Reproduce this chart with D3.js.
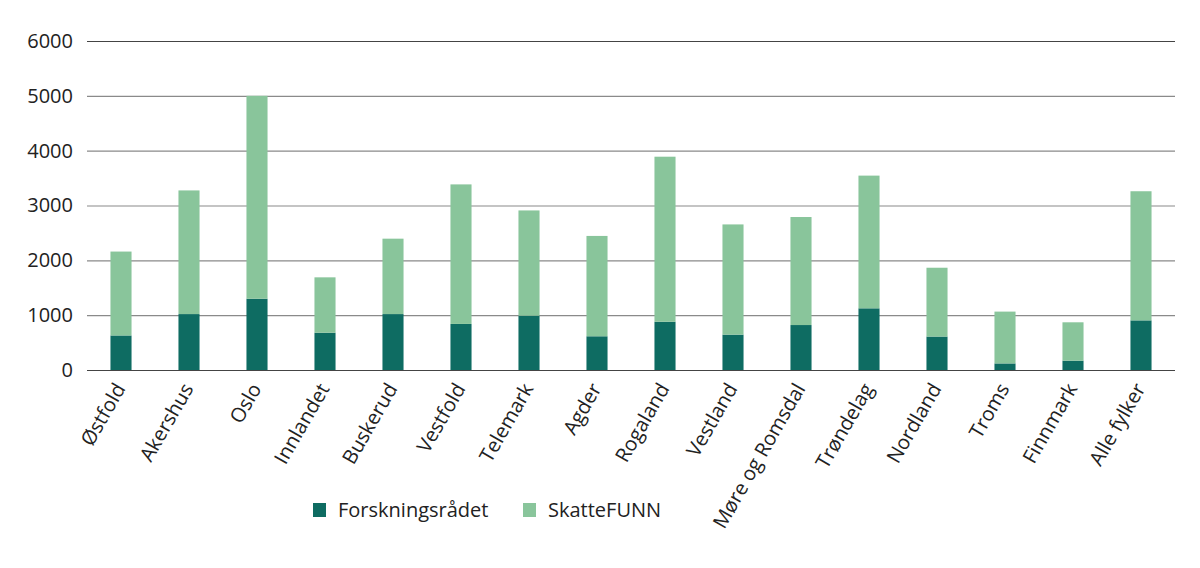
<!DOCTYPE html>
<html lang="no">
	<head>
		<meta charset="utf-8">
		<title>Forskningsrådet og SkatteFUNN per fylke</title>
		<script src="https://cdn.jsdelivr.net/npm/d3@7"></script>
		<style>
			body { margin: 0; background: #fff; }
			text { font-family: "Open Sans", sans-serif; fill: #222; }
		</style>
	</head>
	<body>
		<script>

			//
			// Data
			//
			var regions = ["Østfold", "Akershus", "Oslo", "Innlandet", "Buskerud", "Vestfold",
				"Telemark", "Agder", "Rogaland", "Vestland", "Møre og Romsdal", "Trøndelag",
				"Nordland", "Troms", "Finnmark", "Alle fylker"];
			var forskningsradet = [630, 1020, 1300, 680, 1020, 840, 990, 615, 880, 645, 820, 1125, 610, 120, 170, 905];
			var skattefunn = [1530, 2255, 3700, 1010, 1375, 2545, 1920, 1830, 3010, 2010, 1970, 2420, 1255, 945, 700, 2355];
			var yTicks = [0, 1000, 2000, 3000, 4000, 5000, 6000];

			var seriesNames = ["Forskningsrådet", "SkatteFUNN"];
			var colors = ["#0e6c62", "#89c59b"];

			// rows for d3.stack
			var rows = regions.map(function(r, i) {
				return { region: r, "Forskningsrådet": forskningsradet[i], "SkatteFUNN": skattefunn[i] };
			});

			var width = 1200, height = 568;
			var plotLeft = 87, plotRight = 1175, plotTop = 41, plotBottom = 370;

			var svg = d3.select("body").append("svg")
				.attr("width", width)
				.attr("height", height);

			var x = d3.scaleBand()
				.domain(regions)
				.range([plotLeft, plotRight])
				.paddingInner(0.69)
				.paddingOuter(0.345);

			var y = d3.scaleLinear()
				.domain([0, 6000])
				.range([plotBottom, plotTop]);

			// grid lines
			svg.append("g")
				.selectAll("line")
				.data(yTicks)
				.enter()
				.append("line")
				.attr("x1", plotLeft)
				.attr("x2", plotRight)
				.attr("y1", function(d) { return y(d) + 0.5; })
				.attr("y2", function(d) { return y(d) + 0.5; })
				.attr("stroke", function(d) { return (d === 0 || d === 6000) ? "#444" : "#8a8a8a"; })
				.attr("stroke-width", 1.2);

			// y axis labels
			var yAxis = d3.axisLeft(y).tickValues(yTicks).tickSize(0).tickPadding(14)
				.tickFormat(d3.format("d"));
			svg.append("g")
				.attr("transform", "translate(" + plotLeft + ",0)")
				.call(yAxis)
				.call(function(g) { g.select(".domain").remove(); })
				.selectAll("text")
				.attr("font-size", 20)
				.attr("font-family", "Open Sans, sans-serif")
				.attr("fill", "#222");

			// stacked bars
			var stacked = d3.stack().keys(seriesNames)(rows);

			svg.append("g")
				.selectAll("g")
				.data(stacked)
				.enter()
				.append("g")
				.attr("fill", function(d, i) { return colors[i]; })
				.selectAll("rect")
				.data(function(d) { return d; })
				.enter()
				.append("rect")
				.attr("x", function(d) { return x(d.data.region); })
				.attr("width", x.bandwidth())
				.attr("y", function(d) { return y(d[1]); })
				.attr("height", function(d) { return y(d[0]) - y(d[1]); });

			// x axis labels
			var xAxis = d3.axisBottom(x).tickSize(0).tickPadding(0);
			svg.append("g")
				.attr("transform", "translate(0," + plotBottom + ")")
				.call(xAxis)
				.call(function(g) { g.select(".domain").remove(); })
				.selectAll("text")
				.attr("font-size", 20)
				.attr("font-family", "Open Sans, sans-serif")
				.attr("fill", "#222")
				.attr("text-anchor", "end")
				.attr("dy", "0.35em")
				.attr("transform", "translate(-1,15) rotate(-60)");

			// legend
			var legendX = [313, 523];
			var legend = svg.append("g")
				.selectAll("g")
				.data(seriesNames)
				.enter()
				.append("g")
				.attr("transform", function(d, i) { return "translate(" + legendX[i] + ",503)"; });

			legend.append("rect")
				.attr("width", 13)
				.attr("height", 14)
				.attr("fill", function(d, i) { return colors[i]; });

			legend.append("text")
				.attr("x", 25)
				.attr("y", 7)
				.attr("dy", "0.35em")
				.attr("font-size", 20)
				.text(function(d) { return d; });

		</script>
	</body>
</html>
